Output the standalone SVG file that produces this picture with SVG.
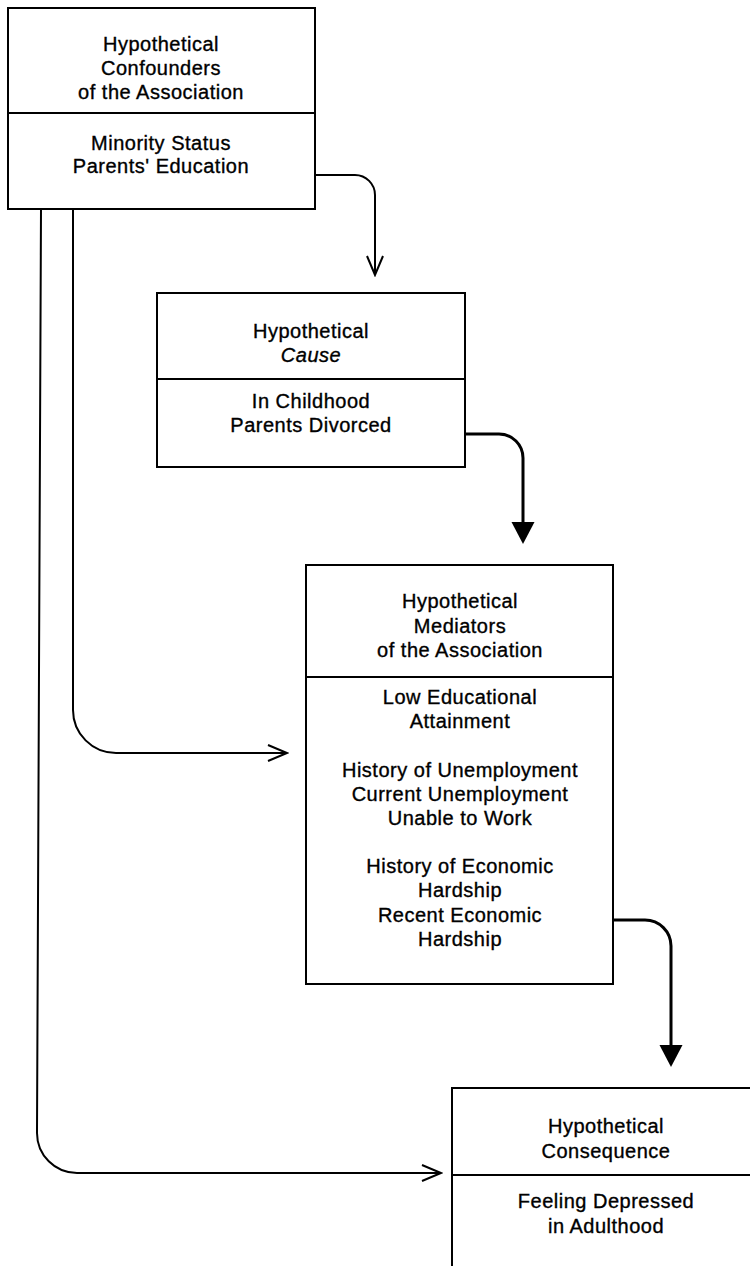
<svg xmlns="http://www.w3.org/2000/svg" width="750" height="1266" viewBox="0 0 750 1266">
<style>
.box{fill:#fff;stroke:#000;stroke-width:2}
.div{stroke:#000;stroke-width:2}
.t{font-family:"Liberation Sans",Arial,Helvetica,sans-serif;font-size:20px;letter-spacing:0.5px;text-anchor:middle;fill:#000;stroke:#000;stroke-width:0.35px}
.it{font-style:italic}
.thin{fill:none;stroke:#000;stroke-width:2}
.thick{fill:none;stroke:#000;stroke-width:3}
</style>
<defs>
<marker id="open" viewBox="-21 -10 23 20" markerWidth="23" markerHeight="20" refX="0" refY="0" orient="auto" markerUnits="userSpaceOnUse">
<path d="M-19,-8 L0,0 L-19,8" fill="none" stroke="#000" stroke-width="2"/>
</marker>
<marker id="filled" viewBox="0 -12 23 24" markerWidth="23" markerHeight="24" refX="0" refY="0" orient="auto" markerUnits="userSpaceOnUse">
<path d="M0,-11.5 L22,0 L0,11.5 Z" fill="#000"/>
</marker>
</defs>
<rect width="750" height="1266" fill="#fff"/>
<g id="connectors">
<path class="thin" d="M315,175 H355 A20,20 0 0 1 375,195 V275" marker-end="url(#open)"/>
<path class="thick" d="M465,434 H499 A24,24 0 0 1 523,458 V522" marker-end="url(#filled)"/>
<path class="thick" d="M613,920 H645 A26,26 0 0 1 671,946 V1045" marker-end="url(#filled)"/>
<path class="thin" d="M73,209 V710 A43,43 0 0 0 116,753 H287" marker-end="url(#open)"/>
<path class="thin" d="M41,209 L37,1133 A40,40 0 0 0 77,1173 H441" marker-end="url(#open)"/>
</g>
<g id="confounders">
<rect class="box" x="8" y="8" width="307" height="201"/>
<line class="div" x1="8" y1="113" x2="315" y2="113"/>
<text class="t" x="161" y="51">Hypothetical</text>
<text class="t" x="161" y="75">Confounders</text>
<text class="t" x="161" y="99">of the Association</text>
<text class="t" x="161" y="150">Minority Status</text>
<text class="t" x="161" y="173">Parents' Education</text>
</g>
<g id="cause">
<rect class="box" x="157" y="293" width="308" height="174"/>
<line class="div" x1="157" y1="379" x2="465" y2="379"/>
<text class="t" x="311" y="338">Hypothetical</text>
<text class="t it" x="311" y="362">Cause</text>
<text class="t" x="311" y="408">In Childhood</text>
<text class="t" x="311" y="432">Parents Divorced</text>
</g>
<g id="mediators">
<rect class="box" x="306" y="565" width="307" height="419"/>
<line class="div" x1="306" y1="677" x2="613" y2="677"/>
<text class="t" x="460" y="608">Hypothetical</text>
<text class="t" x="460" y="633">Mediators</text>
<text class="t" x="460" y="657">of the Association</text>
<text class="t" x="460" y="704">Low Educational</text>
<text class="t" x="460" y="728">Attainment</text>
<text class="t" x="460" y="777">History of Unemployment</text>
<text class="t" x="460" y="801">Current Unemployment</text>
<text class="t" x="460" y="825">Unable to Work</text>
<text class="t" x="460" y="873">History of Economic</text>
<text class="t" x="460" y="897">Hardship</text>
<text class="t" x="460" y="922">Recent Economic</text>
<text class="t" x="460" y="946">Hardship</text>
</g>
<g id="consequence">
<rect class="box" x="452" y="1088" width="320" height="200"/>
<line class="div" x1="452" y1="1175" x2="772" y2="1175"/>
<text class="t" x="606" y="1133">Hypothetical</text>
<text class="t" x="606" y="1158">Consequence</text>
<text class="t" x="606" y="1208">Feeling Depressed</text>
<text class="t" x="606" y="1233">in Adulthood</text>
</g>
</svg>
